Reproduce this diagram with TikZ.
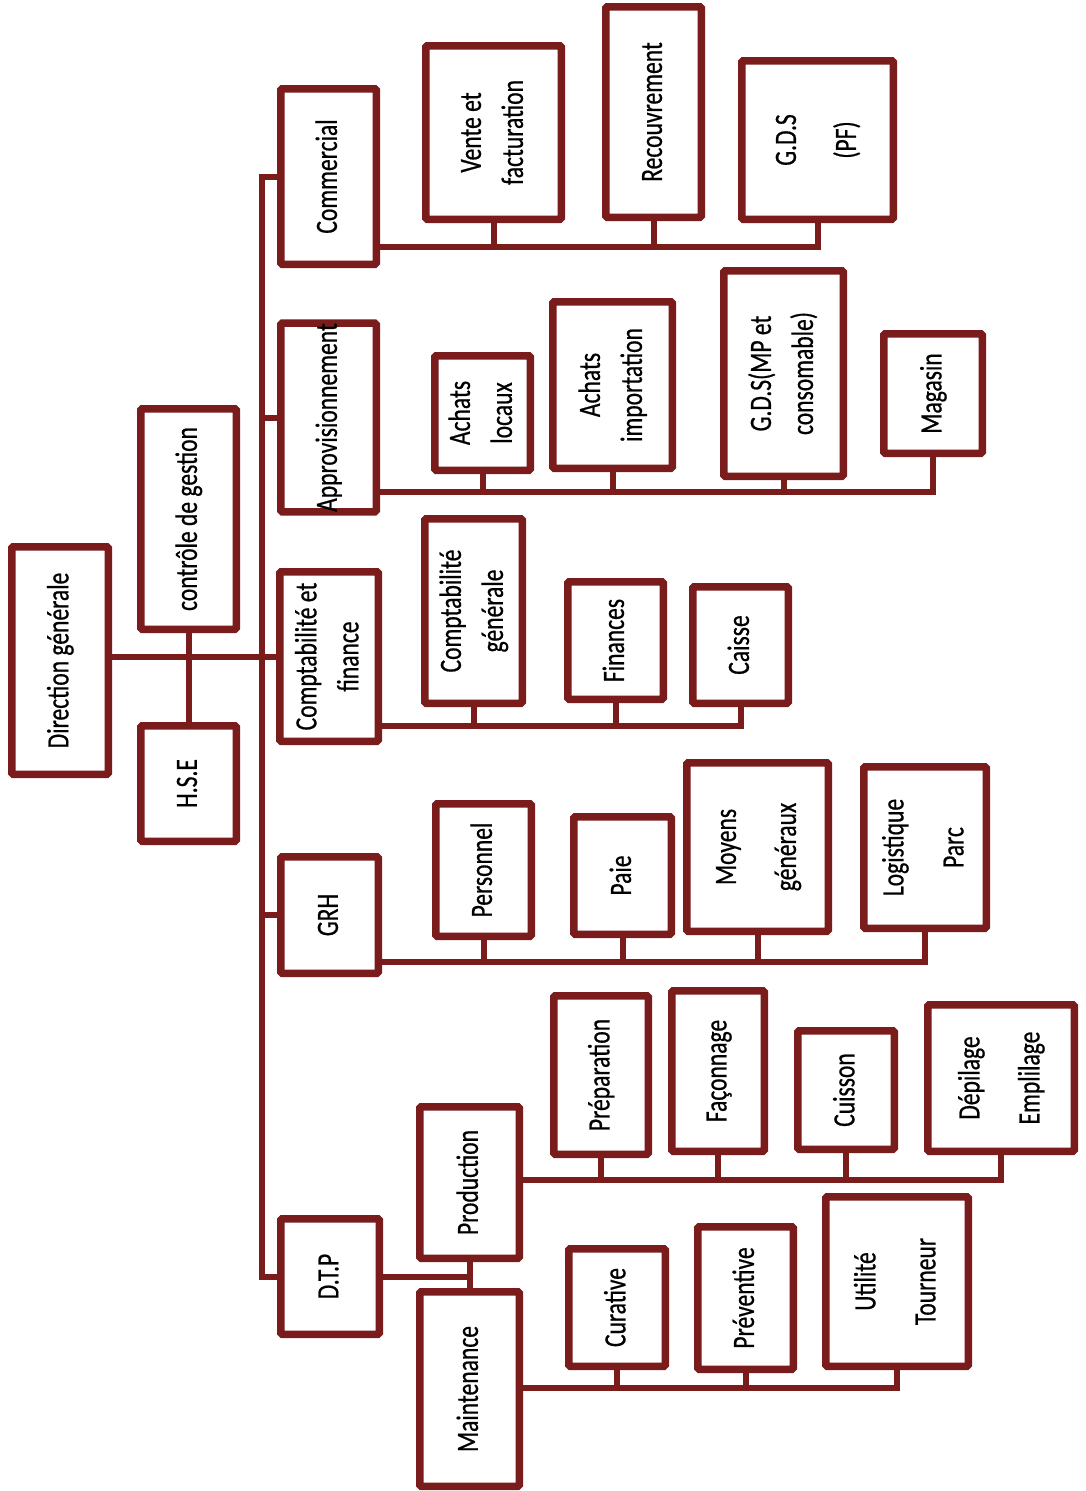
\documentclass[tikz,border=0pt]{standalone}
\usepackage{fontspec}
\setmainfont{Carlito}[FakeStretch=0.76,FakeBold=0.6]
\usetikzlibrary{shadows}
\definecolor{maroon}{RGB}{122,28,28}
\newcommand\bx[6]{%
  \node[orgbox, minimum width={#4-#2-7.5}, minimum height={#5-#3-7.5}] (#1) at ({(#2+#4)/2},{(#3+#5)/2})
    {\rotatebox{90}{\begin{tabular}{@{}c@{}}#6\end{tabular}}};}
\begin{document}
\begin{tikzpicture}[x=1pt,y=-1pt,
  orgbox/.style={draw=maroon, line width=7.5pt, fill=white, rounded corners=1.5pt,
    inner sep=0pt, outer sep=0pt,
    drop shadow={shadow xshift=2.5pt, shadow yshift=-2.5pt, fill=black, opacity=0.22},
    font=\fontsize{31}{42}\selectfont},
  conn/.style={draw=maroon, line width=6pt}]
\fill[white] (0,0) rectangle (1086,1491);
\useasboundingbox (0,0) rectangle (1086,1491);
% coordinates for the spine and buses
\coordinate (spine) at (262,0);
\coordinate (comBus) at (0,247);
\coordinate (appBus) at (0,492);
\coordinate (cfBus) at (0,726);
\coordinate (grhBus) at (0,962);
\coordinate (prodBus) at (0,1180);
\coordinate (maintBus) at (0,1388);
% boxes
\bx{dg}{8}{543}{112}{778}{Direction générale}
\bx{cg}{137}{405}{240}{633}{contrôle de gestion}
\bx{hse}{137}{722}{240}{845}{H.S.E}
\bx{com}{277}{85}{380}{268}{Commercial}
\bx{app}{277}{322}{380}{513}{Approvisionnement}
\bx{cf}{276}{568}{382}{745}{Comptabilité et\\finance}
\bx{grh}{277}{853}{382}{977}{GRH}
\bx{dtp}{277}{1215}{383}{1338}{D.T.P}
\bx{vf}{422}{42}{565}{223}{Vente et\\facturation}
\bx{rec}{602}{3}{705}{221}{Recouvrement}
\bx{gpf}{738}{57}{897}{223}{G.D.S\\[18pt](PF)}
\bx{al}{431}{352}{534}{474}{Achats\\locaux}
\bx{ai}{549}{298}{676}{472}{Achats\\importation}
\bx{gmp}{720}{267}{847}{480}{G.D.S(MP et\\consomable)}
\bx{mag}{880}{330}{986}{457}{Magasin}
\bx{cgen}{421}{515}{526}{707}{Comptabilité\\générale}
\bx{fin}{564}{578}{667}{703}{Finances}
\bx{cai}{689}{583}{792}{707}{Caisse}
\bx{per}{432}{800}{535}{940}{Personnel}
\bx{paie}{570}{813}{675}{938}{Paie}
\bx{mg}{683}{759}{832}{935}{Moyens\\[18pt]généraux}
\bx{log}{860}{763}{990}{932}{Logistique\\[18pt]Parc}
\bx{prod}{416}{1103}{523}{1262}{Production}
\bx{maint}{416}{1288}{523}{1490}{Maintenance}
\bx{prep}{550}{992}{652}{1158}{Préparation}
\bx{fac}{668}{987}{768}{1155}{Façonnage}
\bx{cui}{794}{1027}{898}{1153}{Cuisson}
\bx{dep}{924}{1001}{1078}{1155}{Dépilage\\[18pt]Emplilage}
\bx{cur}{565}{1245}{669}{1370}{Curative}
\bx{prev}{694}{1223}{797}{1373}{Préventive}
\bx{ut}{822}{1193}{972}{1370}{Utilité\\[18pt]Tourneur}
% top-level connectors
\draw[conn] (com.west) -- (com.west -| spine) -- (dtp.west -| spine) -- (dtp.west);
\draw[conn] (app.west) -- (app.west -| spine);
\draw[conn] (grh.west) -- (grh.west -| spine);
\draw[conn] (dg.east |- cf.west) -- (cf.west);
\draw[conn] (cg.south) -- (hse.north);
% Commercial
\draw[conn] (com.east |- comBus) -- (gpf.south |- comBus) -- (gpf.south);
\draw[conn] (vf.south) -- (vf.south |- comBus);
\draw[conn] (rec.south) -- (rec.south |- comBus);
% Approvisionnement
\draw[conn] (app.east |- appBus) -- (mag.south |- appBus) -- (mag.south);
\draw[conn] (al.south) -- (al.south |- appBus);
\draw[conn] (ai.south) -- (ai.south |- appBus);
\draw[conn] (gmp.south) -- (gmp.south |- appBus);
% Comptabilite
\draw[conn] (cf.east |- cfBus) -- (cai.south |- cfBus) -- (cai.south);
\draw[conn] (cgen.south) -- (cgen.south |- cfBus);
\draw[conn] (fin.south) -- (fin.south |- cfBus);
% GRH
\draw[conn] (grh.east |- grhBus) -- (log.south |- grhBus) -- (log.south);
\draw[conn] (per.south) -- (per.south |- grhBus);
\draw[conn] (paie.south) -- (paie.south |- grhBus);
\draw[conn] (mg.south) -- (mg.south |- grhBus);
% DTP
\draw[conn] (dtp.east) -- (dtp.east -| prod.south);
\draw[conn] (prod.south) -- (maint.north);
% Production
\draw[conn] (prod.east |- prodBus) -- (dep.south |- prodBus) -- (dep.south);
\draw[conn] (prep.south) -- (prep.south |- prodBus);
\draw[conn] (fac.south) -- (fac.south |- prodBus);
\draw[conn] (cui.south) -- (cui.south |- prodBus);
% Maintenance
\draw[conn] (maint.east |- maintBus) -- (ut.south |- maintBus) -- (ut.south);
\draw[conn] (cur.south) -- (cur.south |- maintBus);
\draw[conn] (prev.south) -- (prev.south |- maintBus);
\end{tikzpicture}
\end{document}
